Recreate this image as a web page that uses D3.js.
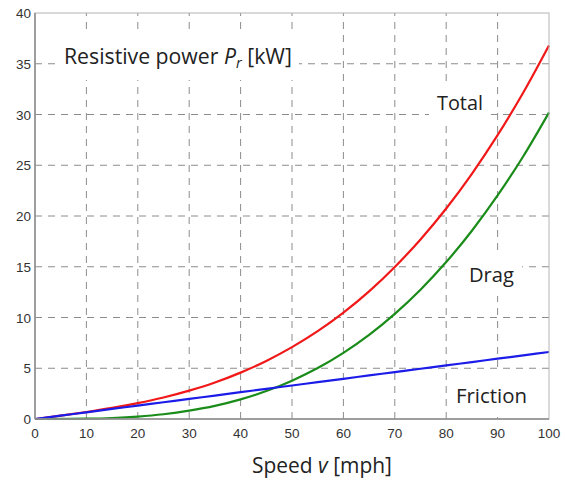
<!DOCTYPE html>
<html><head><meta charset="utf-8">
<script src="https://cdn.jsdelivr.net/npm/d3@7"></script>
<style>body{margin:0;background:#fff}</style>
</head><body>
<svg id="chart" width="565" height="485"></svg>
<script>
const speeds   = [0,5,10,15,20,25,30,35,40,45,50,55,60,65,70,75,80,85,90,95,100];
const friction = [0,0.33,0.66,0.99,1.32,1.65,1.98,2.31,2.64,2.97,3.3,3.63,3.96,4.29,4.62,4.95,5.28,5.61,5.94,6.27,6.6];
const drag     = [0,0.004,0.03,0.10,0.24,0.47,0.82,1.29,1.93,2.75,3.78,5.02,6.52,8.29,10.36,12.74,15.46,18.55,22.02,25.89,30.2];
const total    = [0,0.33,0.69,1.09,1.56,2.12,2.80,3.60,4.57,5.72,7.08,8.65,10.48,12.58,14.98,17.69,20.74,24.16,27.96,32.16,36.8];
const xTicks = [0,10,20,30,40,50,60,70,80,90,100];
const yTicks = [0,5,10,15,20,25,30,35,40];
const seriesNames = ["Total","Drag","Friction"];
const seriesColors = ["#f01818","#1a8c1a","#1c1ce8"];

const svg = d3.select("#chart");
const x = d3.scaleLinear().domain([0,100]).range([35,549]);
const y = d3.scaleLinear().domain([0,40]).range([419,13]);

// grid
const grid = svg.append("g").attr("stroke","#8c8c8c").attr("stroke-width",1).attr("stroke-dasharray","7,6");
grid.selectAll(".gx").data(xTicks.slice(1,-1)).join("line")
  .attr("x1",d=>x(d)).attr("x2",d=>x(d)).attr("y1",y(0)).attr("y2",y(40));
grid.selectAll(".gy").data(yTicks.slice(1,-1)).join("line")
  .attr("y1",d=>y(d)).attr("y2",d=>y(d)).attr("x1",x(0)).attr("x2",x(100));

const boxLayer = svg.append("g");
const lineLayer = svg.append("g");
const textLayer = svg.append("g");

// frame
svg.append("rect").attr("x",x(0)).attr("y",y(40)).attr("width",x(100)-x(0)).attr("height",y(0)-y(40))
  .attr("fill","none").attr("stroke","#b4b4b4").attr("stroke-width",1);
svg.append("line").attr("x1",x(0)).attr("x2",x(0)).attr("y1",y(0)).attr("y2",y(40)).attr("stroke","#8a8a8a").attr("stroke-width",1.5);
svg.append("line").attr("x1",x(0)).attr("x2",x(100)).attr("y1",y(0)).attr("y2",y(0)).attr("stroke","#8a8a8a").attr("stroke-width",1.5);

// tick labels
const tickFont = "'Liberation Sans', Arial, sans-serif";
svg.append("g").selectAll("text").data(xTicks).join("text")
  .attr("x",d=>x(d)).attr("y",y(0)+19).attr("text-anchor","middle")
  .attr("font-family",tickFont).attr("font-size",13.5).attr("fill","#333").text(d=>d);
svg.append("g").selectAll("text").data(yTicks).join("text")
  .attr("x",x(0)-4).attr("y",d=>y(d)+5).attr("text-anchor","end")
  .attr("font-family",tickFont).attr("font-size",13.5).attr("fill","#333").text(d=>d);

// lines
const data = [total,drag,friction];
const line = d3.line().x((d,i)=>x(speeds[i])).y(d=>y(d)).curve(d3.curveMonotoneX);
data.forEach((s,k)=>{
  lineLayer.append("path").datum(s).attr("d",line).attr("fill","none")
    .attr("stroke",seriesColors[k]).attr("stroke-width",2.2);
});

// annotations: fit each to its measured width
const lab = "'Open Sans', Lato, sans-serif";
function fit(sel, x0, x1, pad){
  const w = sel.node().getComputedTextLength();
  const fs = +sel.attr("font-size");
  sel.attr("font-size", fs*(x1-x0)/w);
  sel.selectAll("tspan.sub").attr("font-size", fs*(x1-x0)/w*0.68);
  const b = sel.node().getBBox();
  boxLayer.append("rect").attr("x",b.x-pad[0]).attr("y",b.y-pad[1])
    .attr("width",b.width+2*pad[0]).attr("height",b.height+2*pad[1]).attr("fill","#fff");
}
const t = textLayer.append("text").attr("x",64).attr("y",64).attr("font-family",lab).attr("font-size",19).attr("fill","#222");
t.append("tspan").text("Resistive power ");
t.append("tspan").attr("font-style","italic").text("P");
t.append("tspan").attr("class","sub").attr("font-style","italic").attr("font-size",13).attr("dy",4).text("r");
t.append("tspan").attr("dy",-4).text(" [kW]");
fit(t,64,292,[7,8]);

const labPos = [[437,483,110],[469,514,282],[456,527,403]];
seriesNames.forEach((n,k)=>{
  const s = textLayer.append("text").attr("x",labPos[k][0]).attr("y",labPos[k][2]).attr("font-family",lab)
    .attr("font-size",19).attr("fill","#222").text(n);
  fit(s,labPos[k][0],labPos[k][1],[8,8]);
});

const xl = svg.append("text").attr("x",252).attr("y",473)
  .attr("font-family",lab).attr("font-size",19).attr("fill","#222");
xl.append("tspan").text("Speed ");
xl.append("tspan").attr("font-style","italic").text("v");
xl.append("tspan").text(" [mph]");
{
  const w = xl.node().getComputedTextLength();
  xl.attr("font-size", 19*(392-252)/w);
}
</script>
</body></html>
